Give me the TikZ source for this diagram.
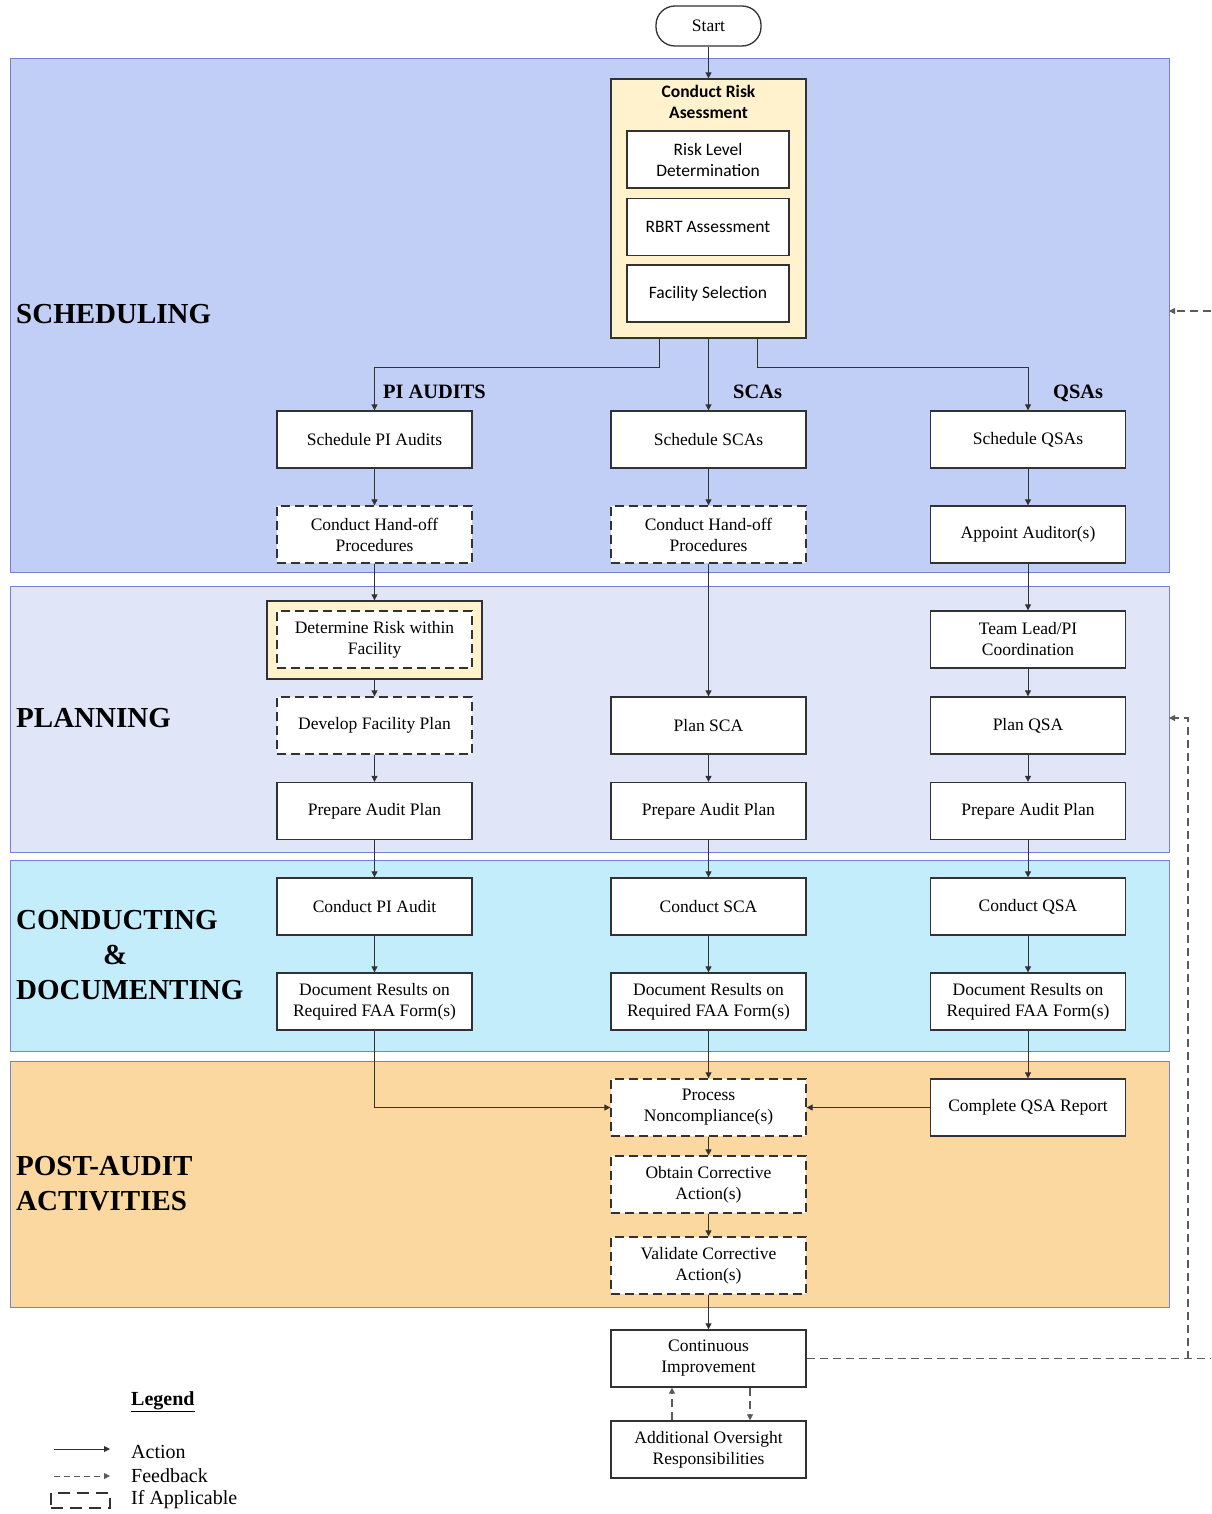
\documentclass[tikz,border=0pt]{standalone}
\usepackage{fontspec}
\setmainfont{Liberation Serif}
\newfontfamily\carlitofont{Carlito}
\usetikzlibrary{arrows.meta,calc}
\definecolor{schedfill}{RGB}{193,206,245}
\definecolor{planfill}{RGB}{224,230,248}
\definecolor{condfill}{RGB}{196,237,252}
\definecolor{postfill}{RGB}{250,216,160}
\definecolor{bandline}{RGB}{115,130,215}
\definecolor{cream}{RGB}{255,242,204}
\definecolor{linecol}{RGB}{50,50,50}
\begin{document}
\begin{tikzpicture}[x=1pt,y=-1pt,
  band/.style={draw=bandline,line width=1.2pt,anchor=north west,inner sep=0pt},
  box/.style={draw=linecol,line width=1.3pt,fill=white,minimum width=195pt,minimum height=57pt,inner sep=0pt,align=center,font=\fontsize{17.5}{21}\selectfont},
  dbox/.style={box,dash pattern=on 9pt off 5pt},
  ibox/.style={draw=linecol,line width=1.3pt,fill=white,minimum width=162pt,minimum height=57pt,inner sep=0pt,align=center,font=\carlitofont\fontsize{17.5}{21}\selectfont},
  sect/.style={anchor=west,inner sep=0pt,font=\bfseries\fontsize{29}{35}\selectfont,align=left},
  lab/.style={anchor=base west,inner sep=0pt,font=\bfseries\fontsize{20.4}{24}\selectfont},
  arr/.style={draw=linecol,line width=0.9pt,-{Triangle[length=6pt,width=6pt]}},
  fb/.style={draw=linecol!80,line width=1.1pt,dash pattern=on 8pt off 5pt},
  fbarr/.style={fb,-{Triangle[length=6pt,width=6pt]}},
  legt/.style={anchor=west,inner sep=0pt,font=\fontsize{20}{24}\selectfont}]
\useasboundingbox (0,0) rectangle (1211,1514);
\fill[white] (0,0) rectangle (1211,1514);
% bands
\node[band,fill=schedfill,minimum width=1159pt,minimum height=514pt] (schedband) at (10,58) {};
\node[band,fill=planfill,minimum width=1159pt,minimum height=266pt] (planband) at (10,586) {};
\node[band,fill=condfill,minimum width=1159pt,minimum height=191pt] (condband) at (10,860) {};
\node[band,fill=postfill,minimum width=1159pt,minimum height=246pt] (postband) at (10,1061) {};
% section titles
\node[sect] (tsched) at (16,314) {SCHEDULING};
\node[sect] (tplan) at (16,718) {PLANNING};
\node[sect] (tcond1) at (16,920) {CONDUCTING};
\node[sect] (tcond2) at (103,955) {\&};
\node[sect] (tcond3) at (16,990) {DOCUMENTING};
\node[sect] (tpost1) at (16,1166) {POST-AUDIT};
\node[sect] (tpost2) at (16,1201) {ACTIVITIES};
% start
\node[draw=linecol,line width=1.3pt,fill=white,rounded corners=19pt,minimum width=105pt,minimum height=40pt,font=\fontsize{17.5}{20}\selectfont] (start) at (708.5,26) {Start};
% risk assessment
\node[draw=linecol,line width=1.3pt,fill=cream,minimum width=195pt,minimum height=259pt,inner sep=0pt] (cra) at (708.5,208.5) {};
\node[inner sep=0pt,align=center,font=\carlitofont\bfseries\fontsize{17.5}{21}\selectfont] (cratitle) at (708.5,102) {Conduct Risk\\Asessment};
\node[ibox] (rld) at (708,159.5) {Risk Level\\Determination};
\node[ibox] (rbrt) at (708,227) {RBRT Assessment};
\node[ibox] (fsel) at (708,293.5) {Facility Selection};
% column labels
\node[lab] (lpi) at (383,398) {PI AUDITS};
\node[lab] (lsca) at (733,398) {SCAs};
\node[lab] (lqsa) at (1053,398) {QSAs};
% left column
\node[box] (spi) at (374.5,439.5) {Schedule PI Audits};
\node[dbox] (hand1) at (374.5,534.5) {Conduct Hand-off\\Procedures};
\node[draw=linecol,line width=1.3pt,fill=cream,minimum width=215pt,minimum height=78pt,inner sep=0pt] (detouter) at (374.5,640) {};
\node[dbox] (det) at (374.5,639.5) {Determine Risk within\\Facility};
\node[dbox] (dev) at (374.5,725.5) {Develop Facility Plan};
\node[box] (prep1) at (374.5,811) {Prepare Audit Plan};
\node[box] (cpi) at (374.5,906.5) {Conduct PI Audit};
\node[box] (doc1) at (374.5,1001.5) {Document Results on\\Required FAA Form(s)};
% middle column
\node[box] (ssca) at (708.5,439.5) {Schedule SCAs};
\node[dbox] (hand2) at (708.5,534.5) {Conduct Hand-off\\Procedures};
\node[box] (plansca) at (708.5,725.5) {Plan SCA};
\node[box] (prep2) at (708.5,811) {Prepare Audit Plan};
\node[box] (csca) at (708.5,906.5) {Conduct SCA};
\node[box] (doc2) at (708.5,1001.5) {Document Results on\\Required FAA Form(s)};
\node[dbox] (proc) at (708.5,1107.5) {Process\\Noncompliance(s)};
\node[dbox] (obt) at (708.5,1184.5) {Obtain Corrective\\Action(s)};
\node[dbox] (val) at (708.5,1265.5) {Validate Corrective\\Action(s)};
\node[box] (ci) at (708.5,1358.5) {Continuous\\Improvement};
\node[box] (ao) at (708.5,1449.5) {Additional Oversight\\Responsibilities};
% right column
\node[box] (sqsa) at (1028,439.5) {Schedule QSAs};
\node[box] (appt) at (1028,534.5) {Appoint Auditor(s)};
\node[box] (team) at (1028,639.5) {Team Lead/PI\\Coordination};
\node[box] (planqsa) at (1028,725.5) {Plan QSA};
\node[box] (prep3) at (1028,811) {Prepare Audit Plan};
\node[box] (cqsa) at (1028,906.5) {Conduct QSA};
\node[box] (doc3) at (1028,1001.5) {Document Results on\\Required FAA Form(s)};
\node[box] (cqr) at (1028,1107.5) {Complete QSA Report};
% connectors
\draw[arr] (start) -- (cra);
\draw[arr] ([xshift=-49.5pt]cra.south) -- ++(0,29) -| (spi.north);
\draw[arr] (cra.south) -- (ssca.north);
\draw[arr] ([xshift=48.5pt]cra.south) -- ++(0,29) -| (sqsa.north);
\draw[arr] (spi) -- (hand1);
\draw[arr] (hand1) -- (detouter);
\draw[arr] (detouter) -- (dev);
\draw[arr] (dev) -- (prep1);
\draw[arr] (prep1) -- (cpi);
\draw[arr] (cpi) -- (doc1);
\draw[arr] (doc1.south) |- (proc.west);
\draw[arr] (ssca) -- (hand2);
\draw[arr] (hand2) -- (plansca);
\draw[arr] (plansca) -- (prep2);
\draw[arr] (prep2) -- (csca);
\draw[arr] (csca) -- (doc2);
\draw[arr] (doc2) -- (proc);
\draw[arr] (proc) -- (obt);
\draw[arr] (obt) -- (val);
\draw[arr] (val) -- (ci);
\draw[arr] (sqsa) -- (appt);
\draw[arr] (appt) -- (team);
\draw[arr] (team) -- (planqsa);
\draw[arr] (planqsa) -- (prep3);
\draw[arr] (prep3) -- (cqsa);
\draw[arr] (cqsa) -- (doc3);
\draw[arr] (doc3) -- (cqr);
\draw[arr] (cqr.west) -- (proc.east);
% feedback
\coordinate (fbright) at (1211,1358.5);
\coordinate (fbcorner) at (1188,1358.5);
\coordinate (planedge) at (1169,718);
\coordinate (schedsrc) at (1211,311);
\coordinate (schededge) at (1169,311);
\draw[fb] (ci.east) -- (fbright);
\draw[fbarr] (fbcorner) |- (planedge);
\draw[fbarr] (schedsrc) -- (schededge);
\draw[fbarr] ([xshift=-36.5pt]ao.north) -- ([xshift=-36.5pt]ci.south);
\draw[fbarr] ([xshift=41.5pt]ci.south) -- ([xshift=41.5pt]ao.north);
% legend
\node[legt,font=\bfseries\fontsize{20}{24}\selectfont] (legtitle) at (131,1402) {\underline{Legend}};
\coordinate (la1) at (54,1449); \coordinate (la2) at (110,1449);
\draw[arr] (la1) -- (la2);
\node[legt] (lact) at (131,1452) {Action};
\coordinate (lf1) at (54,1476); \coordinate (lf2) at (110,1476);
\draw[fbarr,line width=0.9pt,dash pattern=on 6pt off 4pt] (lf1) -- (lf2);
\node[legt] (lfb) at (131,1476) {Feedback};
\node[draw=linecol,line width=1.2pt,dash pattern=on 12pt off 7pt,minimum width=59pt,minimum height=15pt,inner sep=0pt] (lifbox) at (80.5,1500.5) {};
\node[legt] (lif) at (131,1500) {If Applicable};
\end{tikzpicture}
\end{document}
